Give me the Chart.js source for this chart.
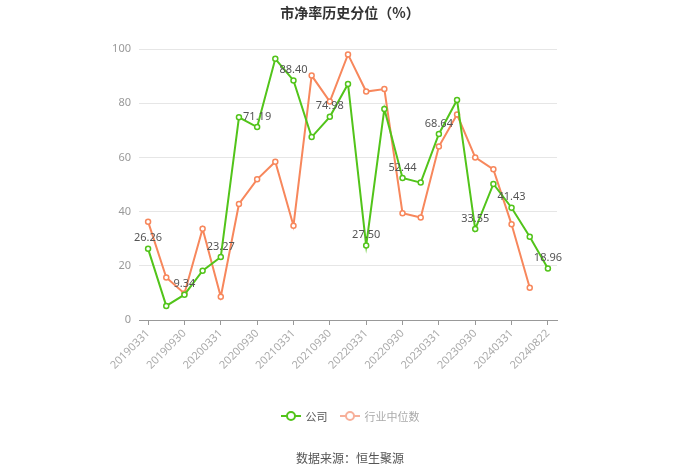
<!DOCTYPE html>
<html>
<head>
<meta charset="utf-8">
<script src="https://cdn.jsdelivr.net/npm/chart.js@4/dist/chart.umd.min.js"></script>
<style>
  html, body { margin: 0; padding: 0; background: #fff; }
  #wrap { position: relative; width: 700px; height: 474px; font-family: "Noto Sans CJK SC", "Noto Sans", sans-serif; }
  #chart { position: absolute; left: 0; top: 0; }
  .title { position: absolute; top: 2px; left: 0; width: 700px; text-align: center; font-size: 14px; font-weight: bold; color: #333; }
  .legend { position: absolute; top: 408px; left: 0; width: 700px; display: flex; justify-content: center; gap: 12px; font-size: 11px; }
  .legend .item { display: flex; align-items: center; gap: 5px; }
  .legend .mark { position: relative; width: 20px; height: 14px; }
  .legend .mark::before { content: ''; position: absolute; left: 0; right: 0; top: 6px; height: 2px; background: var(--c); }
  .legend .mark::after { content: ''; position: absolute; left: 5px; top: 2px; width: 6px; height: 6px; border: 2px solid var(--c); border-radius: 50%; background: #fff; }
  .source { position: absolute; top: 449px; left: 0; width: 700px; text-align: center; font-size: 12px; color: #555; }
</style>
</head>
<body>
<div id="wrap">
  <canvas id="chart" width="700" height="474"></canvas>
  <div class="title">市净率历史分位（%）</div>
  <div class="legend">
    <div class="item" style="color:#555"><span class="mark" style="--c:#52c41a"></span>公司</div>
    <div class="item" style="color:#aaa"><span class="mark" style="--c:#f7b09a"></span>行业中位数</div>
  </div>
  <div class="source">数据来源：恒生聚源</div>
</div>
<script>
const DATES = [
  '20190331', '20190630', '20190930', '20191231',
  '20200331', '20200630', '20200930', '20201231',
  '20210331', '20210630', '20210930', '20211231',
  '20220331', '20220630', '20220930', '20221231',
  '20230331', '20230630', '20230930', '20231231',
  '20240331', '20240630', '20240822'
];

const COMPANY = [
  26.26, 5.2, 9.34, 18.2, 23.27, 74.8, 71.19, 96.4,
  88.40, 67.5, 74.98, 87.1, 27.50, 77.9, 52.44, 50.7,
  68.64, 81.2, 33.55, 50.2, 41.43, 30.7, 18.96
];

const INDUSTRY = [
  36.3, 15.7, 9.8, 33.7, 8.6, 42.8, 51.9, 58.4,
  34.8, 90.2, 80.6, 98.0, 84.3, 85.2, 39.4, 37.8,
  64.0, 75.8, 60.0, 55.6, 35.3, 11.9, null
];

const Y_TICKS = [0, 20, 40, 60, 80, 100];

const GREEN = '#52c41a';
const ORANGE = '#f7875c';

// value labels above every other company point
const valueLabels = {
  id: 'valueLabels',
  afterDatasetsDraw(chart) {
    const { ctx } = chart;
    const meta = chart.getDatasetMeta(0);
    ctx.save();
    ctx.font = '11px "Noto Sans", sans-serif';
    ctx.fillStyle = '#555';
    ctx.textAlign = 'center';
    ctx.textBaseline = 'bottom';
    meta.data.forEach((pt, i) => {
      if (i % 2 !== 0) return;
      const v = COMPANY[i];
      if (v == null) return;
      ctx.fillText(v.toFixed(2), pt.x, pt.y - 5);
    });
    ctx.restore();
  }
};

new Chart(document.getElementById('chart'), {
  type: 'line',
  data: {
    labels: DATES,
    datasets: [
      {
        label: '公司',
        data: COMPANY,
        borderColor: GREEN,
        backgroundColor: '#fff',
        borderWidth: 2,
        pointRadius: 2.5,
        pointBorderWidth: 1.5,
        pointBorderColor: GREEN,
        pointBackgroundColor: '#fff',
        tension: 0
      },
      {
        label: '行业中位数',
        data: INDUSTRY,
        borderColor: ORANGE,
        backgroundColor: '#fff',
        borderWidth: 2,
        pointRadius: 2.5,
        pointBorderWidth: 1.5,
        pointBorderColor: ORANGE,
        pointBackgroundColor: '#fff',
        tension: 0
      }
    ]
  },
  options: {
    responsive: false,
    animation: false,
    layout: { padding: { left: 99, right: 143, top: 49, bottom: 104 } },
    scales: {
      x: {
        offset: true,
        afterFit: (scale) => { scale.height = 50; },
        grid: {
          offset: false,
          drawOnChartArea: false,
          drawTicks: true,
          tickLength: 5,
          color: (c) => (c.index % 2 === 0 ? '#999' : 'rgba(0,0,0,0)')
        },
        border: { display: true, color: '#999' },
        ticks: {
          autoSkip: false,
          minRotation: 45,
          maxRotation: 45,
          color: '#aaa',
          padding: 2,
          font: { size: 11, family: '"Noto Sans", sans-serif' },
          callback: (val, idx) => (idx % 2 === 0 || idx === DATES.length - 1 ? DATES[idx] : '')
        }
      },
      y: {
        min: 0,
        max: 100,
        afterFit: (scale) => { scale.width = 40; },
        afterBuildTicks: (scale) => { scale.ticks = Y_TICKS.map((v) => ({ value: v })); },
        grid: { color: '#e6e6e6', drawTicks: false },
        border: { display: false },
        ticks: {
          color: '#999',
          padding: 8,
          font: { size: 11, family: '"Noto Sans", sans-serif' }
        }
      }
    },
    plugins: {
      legend: { display: false },
      title: { display: false },
      tooltip: { enabled: false }
    }
  },
  plugins: [valueLabels]
});
</script>
</body>
</html>
